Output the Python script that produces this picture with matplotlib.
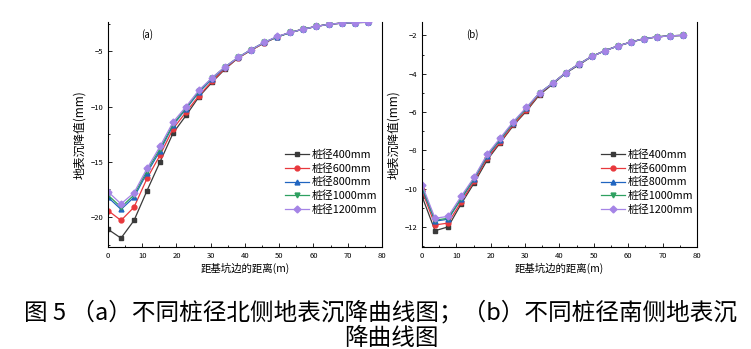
import numpy as np
import matplotlib
matplotlib.use("Agg")
import matplotlib.pyplot as plt
from matplotlib.ticker import MultipleLocator

plt.rcParams['font.family'] = ['Noto Sans CJK SC', 'DejaVu Sans']

# distance from pit edge (m)
dist = [0, 3.8, 7.6, 11.4, 15.2, 19, 22.8, 26.6, 30.4, 34.2, 38, 41.8, 45.6,
        49.4, 53.2, 57, 60.8, 64.6, 68.4, 72.2, 76]

labels = ['桩径400mm', '桩径600mm', '桩径800mm', '桩径1000mm', '桩径1200mm']

# north side (a)
north_400 = [-21.1, -21.9, -20.3, -17.6, -15.0, -12.4, -10.8, -9.1, -7.8, -6.6, -5.6,
             -4.9, -4.25, -3.7, -3.3, -3.0, -2.75, -2.55, -2.45, -2.4, -2.38]
north_600 = [-19.4, -20.3, -19.1, -16.5, -14.4, -12.0, -10.5, -9.0, -7.7, -6.55, -5.6,
             -4.9, -4.25, -3.7, -3.3, -3.0, -2.75, -2.55, -2.45, -2.4, -2.38]
north_800 = [-18.2, -19.3, -18.2, -16.0, -14.0, -11.7, -10.2, -8.7, -7.5, -6.45, -5.55,
             -4.85, -4.2, -3.7, -3.3, -3.0, -2.75, -2.55, -2.45, -2.4, -2.38]
north_1000 = [-18.0, -19.1, -18.0, -15.8, -13.8, -11.6, -10.1, -8.6, -7.4, -6.4, -5.55,
              -4.85, -4.2, -3.7, -3.3, -3.0, -2.75, -2.55, -2.45, -2.4, -2.38]
north_1200 = [-17.7, -18.8, -17.8, -15.6, -13.6, -11.4, -10.0, -8.5, -7.4, -6.4, -5.55,
              -4.85, -4.2, -3.65, -3.3, -3.0, -2.75, -2.55, -2.45, -2.4, -2.38]

# south side (b)
south_400 = [-10.4, -12.2, -12.0, -10.8, -9.7, -8.5, -7.6, -6.7, -5.95, -5.1, -4.55,
             -3.97, -3.55, -3.1, -2.8, -2.55, -2.35, -2.17, -2.08, -2.02, -2.0]
south_600 = [-10.1, -11.9, -11.8, -10.7, -9.6, -8.4, -7.55, -6.65, -5.9, -5.05, -4.5,
             -3.95, -3.5, -3.1, -2.8, -2.55, -2.35, -2.17, -2.08, -2.02, -2.0]
south_800 = [-10.0, -11.7, -11.6, -10.55, -9.5, -8.3, -7.45, -6.55, -5.8, -5.0, -4.5,
             -3.95, -3.5, -3.1, -2.8, -2.55, -2.35, -2.17, -2.08, -2.02, -2.0]
south_1000 = [-9.9, -11.65, -11.55, -10.5, -9.45, -8.25, -7.4, -6.55, -5.8, -5.0, -4.5,
              -3.95, -3.5, -3.1, -2.8, -2.55, -2.35, -2.17, -2.08, -2.02, -2.0]
south_1200 = [-9.8, -11.55, -11.45, -10.4, -9.4, -8.2, -7.35, -6.5, -5.75, -5.0, -4.5,
              -3.95, -3.5, -3.1, -2.8, -2.55, -2.35, -2.17, -2.08, -2.02, -2.0]

colors = ['#3a3a3a', '#e8383d', '#2065c0', '#2ea060', '#a584e6']
markers = ['s', 'o', '^', 'v', 'D']

fig = plt.figure(figsize=(7.51, 3.49), dpi=100)
ax1 = fig.add_axes([0.1438, 0.2923, 0.3648, 0.6447])
ax2 = fig.add_axes([0.5619, 0.2923, 0.3662, 0.6447])

def draw(ax, series, ylim, ystep, tag, tagx, legx):
    for ys, c, m, lab in zip(series, colors, markers, labels):
        ax.plot(dist, ys, color=c, marker=m, ms=3.5, lw=0.9, label=lab)
    ax.set_xlim(0, 80)
    ax.set_ylim(*ylim)
    ax.xaxis.set_major_locator(MultipleLocator(10))
    ax.xaxis.set_minor_locator(MultipleLocator(5))
    ax.yaxis.set_major_locator(MultipleLocator(ystep))
    ax.yaxis.set_minor_locator(MultipleLocator(ystep / 2))
    ax.tick_params(which='both', direction='in', labelsize=5.5, width=0.6)
    ax.tick_params(which='major', length=3)
    ax.tick_params(which='minor', length=1.5)
    ax.spines['top'].set_visible(False)
    for s in ['left', 'right', 'bottom']:
        ax.spines[s].set_linewidth(0.8)
    ax.set_xlabel('距基坑边的距离(m)', fontsize=7.5, labelpad=2)
    ax.set_ylabel('地表沉降值(mm)', fontsize=8.5, labelpad=3)
    ax.text(tagx, 0.93, tag, transform=ax.transAxes, fontsize=7)
    ax.legend(loc='upper left', bbox_to_anchor=(legx, 0.435), frameon=False,
              fontsize=7.8, handlelength=2.2, handletextpad=0.3,
              labelspacing=0.3, borderaxespad=0, borderpad=0)

draw(ax1, [north_400, north_600, north_800, north_1000, north_1200],
     (-22.7, -2.35), 5, '(a)', 0.12, 0.645)
draw(ax2, [south_400, south_600, south_800, south_1000, south_1200],
     (-13.05, -1.3), 2, '(b)', 0.16, 0.65)

fig.text(0.507, 0.103, '图 5 （a）不同桩径北侧地表沉降曲线图；（b）不同桩径南侧地表沉',
         ha='center', va='center', fontsize=17)
fig.text(0.521, 0.03, '降曲线图', ha='center', va='center', fontsize=17)

fig.savefig('out.png', dpi=100)
